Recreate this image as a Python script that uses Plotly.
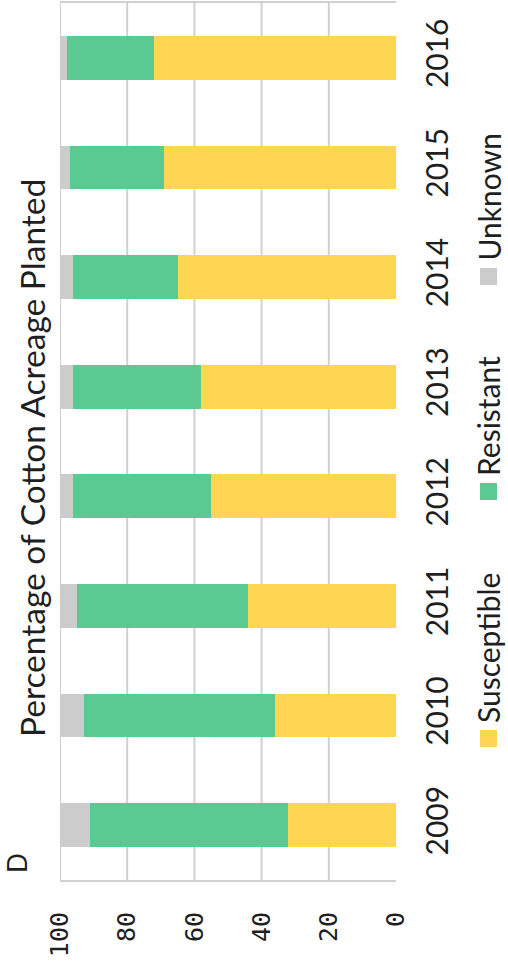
import plotly.graph_objects as go

# Cotton acreage planted by herbicide-resistance status (percent)
years = ["2009", "2010", "2011", "2012", "2013", "2014", "2015", "2016"]
susceptible = [32, 36, 44, 55, 58, 65, 69, 72]
resistant = [59, 57, 51, 41, 38, 31, 28, 26]
unknown = [9, 7, 5, 4, 4, 4, 3, 2]
value_ticks = [0, 20, 40, 60, 80, 100]

series_names = ["Susceptible", "Resistant", "Unknown"]
series_colors = ["#FFD654", "#5BC992", "#CCCCCC"]
grid_color = "#D0D0D0"
text_color = "#1F1F1F"
label_font = "Lato"

W, H = 508, 971
# plot area in pixels
L, R, T, B = 60, 396, 3, 880

fig = go.Figure()
for name, vals, col in zip(series_names, [susceptible, resistant, unknown], series_colors):
    fig.add_trace(go.Bar(
        y=years, x=vals, name=name, orientation="h",
        marker=dict(color=col, line=dict(width=0)),
        showlegend=False,
    ))


def px(X):
    return (X - L) / (R - L)


def py(Y):
    return (B - Y) / (B - T)


shapes = []
# vertical gridlines at the non-zero value ticks
for v in value_ticks:
    if v == 0:
        continue
    shapes.append(dict(type="line", xref="x", yref="paper", x0=v, x1=v, y0=0, y1=1,
                       line=dict(color=grid_color, width=2), layer="below"))

annotations = []
# rotated legend: swatch + label for each series, reading upward
legend_items = [("Susceptible", series_colors[0], 747),
                ("Resistant", series_colors[1], 500),
                ("Unknown", series_colors[2], 285)]
for name, col, ybot in legend_items:
    shapes.append(dict(type="rect", xref="paper", yref="paper",
                       x0=px(480), x1=px(497), y0=py(ybot), y1=py(ybot - 17),
                       fillcolor=col, line=dict(width=0)))
    annotations.append(dict(text=name, xref="paper", yref="paper",
                            x=px(488), y=py(ybot - 22), xanchor="center", yanchor="bottom",
                            textangle=-90, showarrow=False,
                            font=dict(family=label_font, size=30, color=text_color)))

# chart title, rotated
annotations.append(dict(text="Percentage of Cotton Acreage Planted", xref="paper", yref="paper",
                        x=px(32), y=py(458), xanchor="center", yanchor="middle",
                        textangle=-90, showarrow=False,
                        font=dict(family=label_font, size=33.5, color=text_color)))
# panel letter
annotations.append(dict(text="D", xref="paper", yref="paper",
                        x=px(17), y=py(863), xanchor="center", yanchor="middle",
                        textangle=-90, showarrow=False,
                        font=dict(family=label_font, size=26, color=text_color)))

fig.update_layout(
    width=W, height=H,
    margin=dict(l=L, r=W - R, t=T, b=H - B, autoexpand=False),
    paper_bgcolor="white", plot_bgcolor="white",
    barmode="stack", bargap=0.6,
    shapes=shapes, annotations=annotations,
    xaxis=dict(range=[100, 0], tickvals=value_ticks, ticktext=[str(v) for v in value_ticks],
               tickangle=-90, ticks="", ticklabelstandoff=20,
               showgrid=False, zeroline=False,
               showline=True, mirror=True, linecolor=grid_color, linewidth=2,
               tickfont=dict(family="DejaVu Sans Mono", size=25, color=text_color)),
    yaxis=dict(type="category", categoryorder="array", categoryarray=years,
               range=[-0.5, len(years) - 0.5], side="right",
               tickangle=-90, ticks="", ticklabelstandoff=21,
               showgrid=False, zeroline=False, showline=False,
               tickfont=dict(family=label_font, size=30, color=text_color)),
)

fig.write_html("out.html")
